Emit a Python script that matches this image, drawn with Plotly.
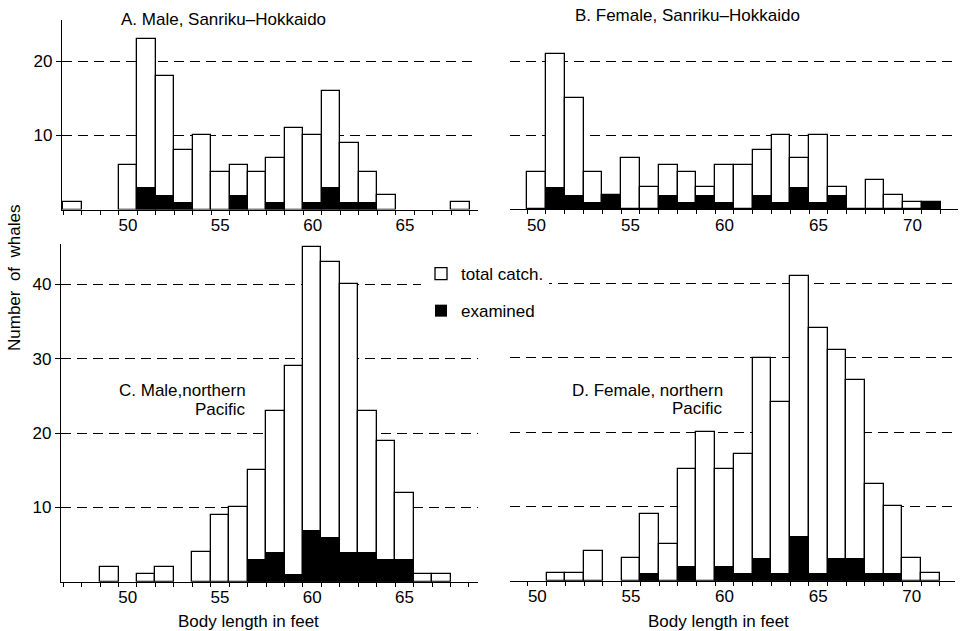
import plotly.graph_objects as go

# ---------------- data ----------------
A_len = [47, 50, 51, 52, 53, 54, 55, 56, 57, 58, 59, 60, 61, 62, 63, 64, 68]
A_total = [1, 6, 23, 18, 8, 10, 5, 6, 5, 7, 11, 10, 16, 9, 5, 2, 1]
A_exam = [0, 0, 3, 2, 1, 0, 0, 2, 0, 1, 0, 1, 3, 1, 1, 0, 0]

B_len = [50, 51, 52, 53, 54, 55, 56, 57, 58, 59, 60, 61, 62, 63, 64, 65, 66, 67, 68, 69, 70, 71]
B_total = [5, 21, 15, 5, 2, 7, 3, 6, 5, 3, 6, 6, 8, 10, 7, 10, 3, 0, 4, 2, 1, 1]
B_exam = [0, 3, 2, 1, 2, 0, 0, 2, 1, 2, 1, 0, 2, 1, 3, 1, 2, 0, 0, 0, 0, 1]

C_len = [49, 51, 52, 54, 55, 56, 57, 58, 59, 60, 61, 62, 63, 64, 65, 66, 67]
C_total = [2, 1, 2, 4, 9, 10, 15, 23, 29, 45, 43, 40, 23, 19, 12, 1, 1]
C_exam = [0, 0, 0, 0, 0, 0, 3, 4, 1, 7, 6, 4, 4, 3, 3, 0, 0]

D_len = [51, 52, 53, 55, 56, 57, 58, 59, 60, 61, 62, 63, 64, 65, 66, 67, 68, 69, 70, 71]
D_total = [1, 1, 4, 3, 9, 5, 15, 20, 15, 17, 30, 24, 41, 34, 31, 27, 13, 10, 3, 1]
D_exam = [0, 0, 0, 0, 1, 0, 2, 0, 2, 1, 3, 1, 6, 1, 3, 3, 1, 1, 0, 0]

x_ticks = [50, 55, 60, 65, 70]
y_ticks_top = [10, 20]
y_ticks_bottom = [10, 20, 30, 40]

titles = {
    "A": ["A. Male, Sanriku\u2013Hokkaido"],
    "B": ["B. Female, Sanriku\u2013Hokkaido"],
    "C": ["C. Male,northern", "Pacific"],
    "D": ["D. Female, northern", "Pacific"],
}
xlabel = "Body length in feet"
ylabel = "Number\u00a0\u00a0of\u00a0\u00a0whales"
legend_total = "total catch."
legend_exam = "examined"

# ---------------- layout helpers ----------------
W, H = 961, 631
FONT = "Liberation Sans, Arial, sans-serif"
FS = 17


def px(xp):
    return xp / W


def py(yp):
    return 1 - yp / H


panels = [
    # name, lengths, total, exam, x px box, y px box, xrange, yrange, yticks, show y axis
    ("A", A_len, A_total, A_exam, (62, 478), (20, 209.5), (46.43, 68.95), (0, 25.6), y_ticks_top, True),
    ("B", B_len, B_total, B_exam, (510, 958), (20, 209.3), (48.59, 72.42), (0, 25.58), y_ticks_top, False),
    ("C", C_len, C_total, C_exam, (61, 478), (244, 581.7), (46.38, 68.99), (0, 45.45), y_ticks_bottom, True),
    ("D", D_len, D_total, D_exam, (510, 955), (244, 580.7), (48.54, 72.31), (0, 45.3), y_ticks_bottom, False),
]

fig = go.Figure()
layout = dict(
    width=W, height=H,
    margin=dict(l=0, r=0, t=0, b=0),
    paper_bgcolor="white", plot_bgcolor="white",
    barmode="overlay", bargap=0,
    font=dict(family=FONT, size=FS, color="black"),
    showlegend=True,
    legend=dict(
        x=px(421), y=py(256), xanchor="left", yanchor="top",
        bgcolor="white", borderwidth=0,
        font=dict(size=FS), itemwidth=30,
        traceorder="grouped", tracegroupgap=12,
    ),
)

for i, (name, lens, tot, exm, xb, yb, xr, yr, yt, showy) in enumerate(panels):
    k = "" if i == 0 else str(i + 1)
    xa, ya = "x" + k, "y" + k
    fig.add_trace(go.Bar(
        x=lens, y=tot, width=1, xaxis=xa, yaxis=ya,
        marker=dict(color="white", line=dict(color="black", width=1.3)),
        name=legend_total, legendgroup="total", showlegend=(i == 0),
        hoverinfo="x+y",
    ))
    fig.add_trace(go.Bar(
        x=lens, y=exm, width=1, xaxis=xa, yaxis=ya,
        marker=dict(color="black", line=dict(color="black", width=0)),
        name=legend_exam, legendgroup="exam", showlegend=(i == 0),
        hoverinfo="x+y",
    ))
    layout["xaxis" + k] = dict(
        domain=[px(xb[0]), px(xb[1])], range=list(xr), anchor=ya,
        tickvals=x_ticks, ticks="", ticklabelstandoff=0,
        showline=True, linecolor="black", linewidth=1.3,
        showgrid=False, zeroline=False,
        minor=dict(dtick=1, tick0=0.5, ticks="outside", ticklen=4,
                   tickcolor="black", tickwidth=1, showgrid=False),
        tickfont=dict(size=FS),
        fixedrange=True,
    )
    layout["yaxis" + k] = dict(
        domain=[py(yb[1]), py(yb[0])], range=list(yr), anchor=xa,
        tickvals=yt, showticklabels=showy,
        ticks="outside" if showy else "", ticklen=5, tickcolor="black",
        showline=showy, linecolor="black", linewidth=1.3,
        showgrid=True, gridcolor="black", gridwidth=1, griddash="10px,6px",
        zeroline=False, tickfont=dict(size=FS),
        fixedrange=True,
    )

fig.update_layout(**layout)

ann = []
# panel titles
ann.append(dict(x=px(223), y=py(20), text=titles["A"][0], xanchor="center", yanchor="middle"))
ann.append(dict(x=px(687), y=py(16), text=titles["B"][0], xanchor="center", yanchor="middle"))
ann.append(dict(x=px(248), y=py(390), text=titles["C"][0], xanchor="right", yanchor="middle"))
ann.append(dict(x=px(248), y=py(409), text=titles["C"][1], xanchor="right", yanchor="middle"))
ann.append(dict(x=px(725), y=py(390), text=titles["D"][0], xanchor="right", yanchor="middle"))
ann.append(dict(x=px(725), y=py(408), text=titles["D"][1], xanchor="right", yanchor="middle"))
# axis labels
ann.append(dict(x=px(248), y=py(621), text=xlabel, xanchor="center", yanchor="middle"))
ann.append(dict(x=px(718), y=py(621), text=xlabel, xanchor="center", yanchor="middle"))
ann.append(dict(x=px(14), y=py(278), text=ylabel, textangle=-90, xanchor="center", yanchor="middle"))

for a in ann:
    a.update(xref="paper", yref="paper", showarrow=False, font=dict(family=FONT, size=FS, color="black"))
fig.update_layout(annotations=ann)

fig.write_html("out.html")
